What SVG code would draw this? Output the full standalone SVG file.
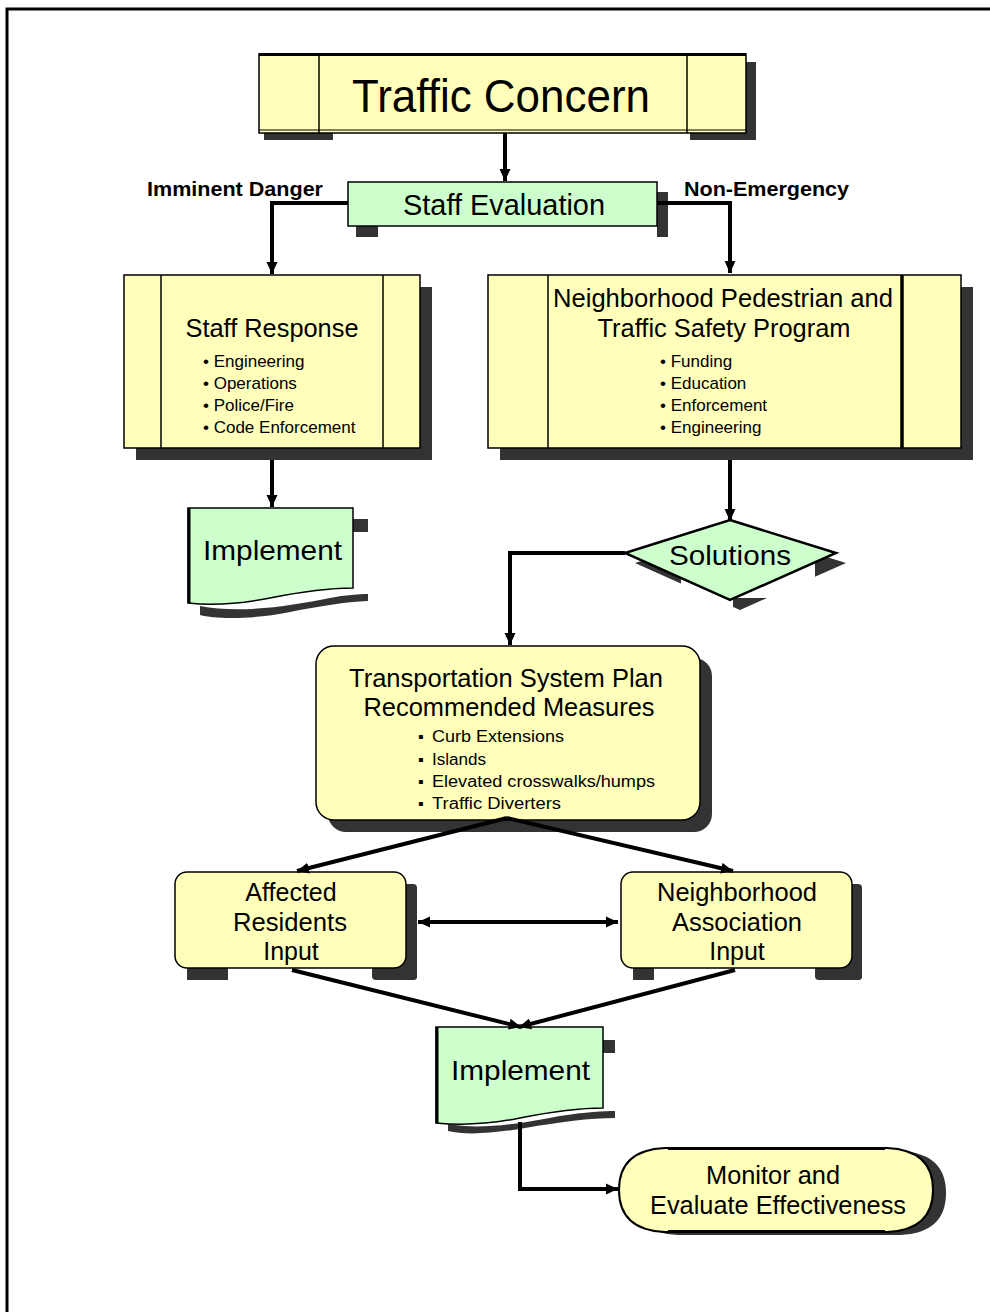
<svg xmlns="http://www.w3.org/2000/svg" width="990" height="1312" viewBox="0 0 990 1312">
<defs>
<style>
.t{font-family:"Liberation Sans",Arial,sans-serif;fill:#000}
.h{font-size:25px;text-anchor:middle}
.b{font-size:17px}
.s{font-size:16px}
.lbl{font-size:20px;font-weight:bold}
.y{fill:#FFFFBB;stroke:#000;stroke-width:1.5}
.g{fill:#CCFFCC;stroke:#000;stroke-width:1.5}
.sh{fill:#333}
.c{fill:none;stroke:#000;stroke-width:4;stroke-linejoin:miter}
.ln{stroke:#000;stroke-width:1.5}
</style>
<marker id="ah" markerUnits="userSpaceOnUse" markerWidth="12" markerHeight="12" refX="12" refY="6" orient="auto-start-reverse">
<path d="M0,0.5 L12,6 L0,11.5 z" fill="#000"/>
</marker>
<clipPath id="dclip"><rect x="633" y="555" width="48" height="30"/><rect x="733" y="598" width="40" height="20"/><rect x="815" y="550" width="40" height="30"/></clipPath>
</defs>
<rect width="990" height="1312" fill="#fff"/>
<path d="M7,1312 V9 H990" fill="none" stroke="#000" stroke-width="3"/>

<g id="traffic-concern">
<rect class="sh" x="746" y="62" width="10" height="78"/>
<rect class="sh" x="264" y="133" width="69" height="7"/>
<rect class="sh" x="690" y="133" width="66" height="7"/>
<rect class="y" x="259" y="54" width="487" height="79"/>
<line class="ln" x1="319" y1="54" x2="319" y2="133"/>
<line class="ln" x1="687" y1="54" x2="687" y2="133"/>
<line x1="259" y1="54.5" x2="746" y2="54.5" stroke="#000" stroke-width="3"/>
<line x1="259" y1="130" x2="746" y2="130" stroke="#000" stroke-width="1"/>
<text class="t" x="352" y="112" font-size="46" textLength="298" lengthAdjust="spacingAndGlyphs">Traffic Concern</text>
</g>

<g id="staff-evaluation">
<rect class="sh" x="657" y="192" width="11" height="45"/>
<rect class="sh" x="356" y="226" width="22" height="11"/>
<rect class="g" x="348" y="182" width="309" height="44"/>
<text class="t" x="403" y="215" font-size="29" textLength="202" lengthAdjust="spacingAndGlyphs">Staff Evaluation</text>
</g>

<g id="labels">
<text class="t lbl" x="147" y="196" textLength="176" lengthAdjust="spacingAndGlyphs">Imminent Danger</text>
<text class="t lbl" x="684" y="196" textLength="165" lengthAdjust="spacingAndGlyphs">Non-Emergency</text>
</g>

<g id="staff-response">
<rect class="sh" x="136" y="287" width="296" height="173"/>
<rect class="y" x="124" y="275" width="296" height="173"/>
<line class="ln" x1="161" y1="275" x2="161" y2="448"/>
<line class="ln" x1="383" y1="275" x2="383" y2="448"/>
<text class="t h" x="272" y="337" textLength="173" lengthAdjust="spacingAndGlyphs">Staff Response</text>
<text class="t b" x="203" y="367">• Engineering</text>
<text class="t b" x="203" y="389">• Operations</text>
<text class="t b" x="203" y="411">• Police/Fire</text>
<text class="t b" x="203" y="433">• Code Enforcement</text>
</g>

<g id="ntsp">
<rect class="sh" x="500" y="287" width="473" height="173"/>
<rect class="y" x="488" y="275" width="473" height="173"/>
<line class="ln" x1="548" y1="275" x2="548" y2="448"/>
<line x1="902" y1="275" x2="902" y2="448" stroke="#000" stroke-width="3.5"/>
<text class="t h" x="723" y="307" textLength="340" lengthAdjust="spacingAndGlyphs">Neighborhood Pedestrian and</text>
<text class="t h" x="724" y="337" textLength="253" lengthAdjust="spacingAndGlyphs">Traffic Safety Program</text>
<text class="t b" x="660" y="367">• Funding</text>
<text class="t b" x="660" y="389">• Education</text>
<text class="t b" x="660" y="411">• Enforcement</text>
<text class="t b" x="660" y="433">• Engineering</text>
</g>

<g id="implement-1">
<rect class="sh" x="353" y="519" width="15" height="13"/>
<path class="sh" d="M200,606 C240,614 290,606 330,598 C345,595 360,594 368,594 V601 C345,602 320,606 290,612 C250,620 215,619 200,615 Z"/>
<path class="g" d="M188,508 H353 V588 C330,588 300,592 270,598 C240,604 215,606 188,603 Z"/>
<line x1="189" y1="508" x2="189" y2="603" stroke="#000" stroke-width="3"/>
<text class="t" x="203" y="560" font-size="28" textLength="139" lengthAdjust="spacingAndGlyphs">Implement</text>
</g>

<g id="solutions">
<polygon class="sh" clip-path="url(#dclip)" points="740,530 846,563 740,610 635,563"/>
<polygon fill="#CCFFCC" stroke="#000" stroke-width="2.5" points="730,520 836,553 730,600 625,553"/>
<text class="t" x="669" y="565" font-size="28" textLength="122" lengthAdjust="spacingAndGlyphs">Solutions</text>
</g>

<g id="tsp">
<rect class="sh" x="328" y="658" width="384" height="174" rx="18"/>
<rect class="y" x="316" y="646" width="384" height="174" rx="18" stroke-width="2"/>
<text class="t h" x="506" y="687" textLength="314" lengthAdjust="spacingAndGlyphs">Transportation System Plan</text>
<text class="t h" x="509" y="716" textLength="291" lengthAdjust="spacingAndGlyphs">Recommended Measures</text>
<text class="t s" x="418" y="742">▪ <tspan x="432" textLength="132" lengthAdjust="spacingAndGlyphs">Curb Extensions</tspan></text>
<text class="t s" x="418" y="765">▪ <tspan x="432" textLength="54" lengthAdjust="spacingAndGlyphs">Islands</tspan></text>
<text class="t s" x="418" y="787">▪ <tspan x="432" textLength="223" lengthAdjust="spacingAndGlyphs">Elevated crosswalks/humps</tspan></text>
<text class="t s" x="418" y="809">▪ <tspan x="432" textLength="129" lengthAdjust="spacingAndGlyphs">Traffic Diverters</tspan></text>
</g>

<g id="affected-residents">
<rect class="sh" x="404" y="884" width="13" height="96" rx="4"/>
<rect class="sh" x="187" y="960" width="41" height="20"/>
<rect class="sh" x="372" y="960" width="45" height="20" rx="4"/>
<rect class="y" x="175" y="872" width="231" height="96" rx="12" stroke-width="2"/>
<text class="t h" x="291" y="901">Affected</text>
<text class="t h" x="290" y="931" textLength="114" lengthAdjust="spacingAndGlyphs">Residents</text>
<text class="t h" x="291" y="960">Input</text>
</g>

<g id="neighborhood-association">
<rect class="sh" x="848" y="884" width="14" height="96" rx="4"/>
<rect class="sh" x="633" y="960" width="21" height="20"/>
<rect class="sh" x="815" y="960" width="47" height="20" rx="4"/>
<rect class="y" x="621" y="872" width="231" height="96" rx="12" stroke-width="2"/>
<text class="t h" x="737" y="901" textLength="160" lengthAdjust="spacingAndGlyphs">Neighborhood</text>
<text class="t h" x="737" y="931" textLength="130" lengthAdjust="spacingAndGlyphs">Association</text>
<text class="t h" x="737" y="960">Input</text>
</g>

<g id="implement-2">
<rect class="sh" x="603" y="1040" width="12" height="13"/>
<path class="sh" d="M448,1124 C480,1130 520,1124 560,1116 C585,1112 605,1111 615,1111 V1118 C590,1118 560,1122 525,1128 C490,1134 465,1135 448,1131 Z"/>
<path class="g" d="M436,1027 H603 V1108 C580,1108 550,1112 520,1118 C490,1124 465,1126 436,1123 Z"/>
<line x1="437" y1="1027" x2="437" y2="1123" stroke="#000" stroke-width="3"/>
<text class="t" x="451" y="1080" font-size="28" textLength="139" lengthAdjust="spacingAndGlyphs">Implement</text>
</g>

<g id="monitor">
<path class="sh" d="M678,1151 H900 Q946,1153 946,1193 Q946,1233 900,1235 H678 Q632,1233 632,1193 Q632,1153 678,1151 Z"/>
<path d="M665,1148 H887 Q933,1150 933,1190 Q933,1230 887,1232 H665 Q619,1230 619,1190 Q619,1150 665,1148 Z" fill="#FFFFBB" stroke="#000" stroke-width="2"/>
<line x1="668" y1="1148.5" x2="885" y2="1148.5" stroke="#000" stroke-width="3"/>
<line x1="668" y1="1231.5" x2="885" y2="1231.5" stroke="#000" stroke-width="3"/>
<text class="t h" x="773" y="1184" textLength="134" lengthAdjust="spacingAndGlyphs">Monitor and</text>
<text class="t h" x="778" y="1214" textLength="256" lengthAdjust="spacingAndGlyphs">Evaluate Effectiveness</text>
</g>

<g id="connectors">
<path class="c" d="M505,133 V181" marker-end="url(#ah)"/>
<path class="c" d="M348,203 H272 V274" marker-end="url(#ah)"/>
<path class="c" d="M657,203 H730 V273" marker-end="url(#ah)"/>
<path class="c" d="M272,460 V507" marker-end="url(#ah)"/>
<path class="c" d="M730,460 V521" marker-end="url(#ah)"/>
<path class="c" d="M625,553 H510 V645" marker-end="url(#ah)"/>
<path class="c" d="M507,818 L297,871" marker-end="url(#ah)"/>
<path class="c" d="M507,818 L733,871" marker-end="url(#ah)"/>
<path class="c" d="M418,922 H618" marker-start="url(#ah)" marker-end="url(#ah)"/>
<path class="c" d="M292,970 L521,1027" marker-end="url(#ah)"/>
<path class="c" d="M735,970 L519,1027" marker-end="url(#ah)"/>
<path class="c" d="M520,1122 V1189 H618" marker-end="url(#ah)"/>
</g>
</svg>
